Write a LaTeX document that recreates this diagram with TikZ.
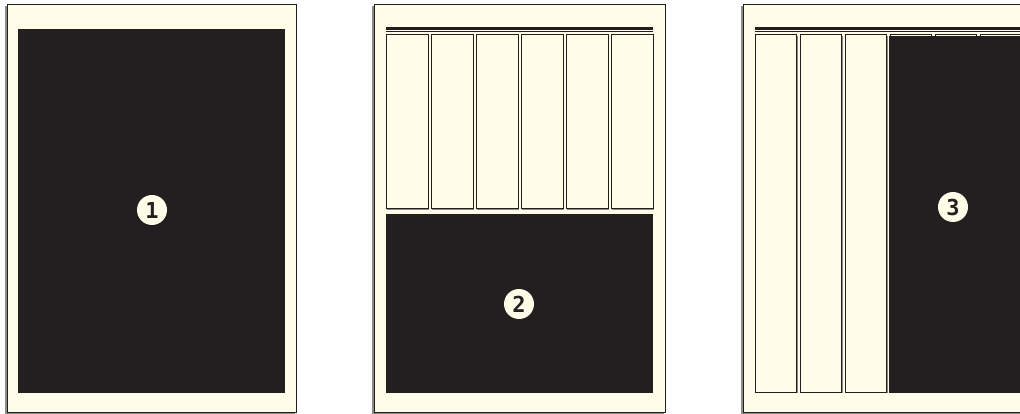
\documentclass[tikz,border=0pt]{standalone}
\usepackage{fontspec}
\newfontfamily\markfont{DejaVu Sans Mono}[BoldFont={DejaVu Sans Mono Bold}]
\usetikzlibrary{positioning}
\definecolor{pageCream}{HTML}{FFFCE8}
\definecolor{inkDark}{HTML}{231F20}
\definecolor{edgeGray}{HTML}{8C8B86}

\begin{document}
\begin{tikzpicture}[
  x=1pt, y=-1pt,
  shade/.style={fill=edgeGray},
  sheet/.style={fill=pageCream, draw=inkDark, line width=0.9pt},
  column/.style={fill=pageCream, draw=inkDark, line width=1pt},
  rule/.style={draw=inkDark, line width=2.2pt},
  thinrule/.style={draw=inkDark, line width=1.3pt},
  block/.style={fill=inkDark},
  marker/.style={circle, fill=pageCream, text=inkDark, minimum size=30pt,
    inner sep=0pt, font=\markfont\bfseries\fontsize{22}{22}\selectfont},
]
\useasboundingbox (0,0) rectangle (1020,414);
\clip (0,0) rectangle (1020,414);
\fill[white] (0,0) rectangle (1020,414);

% layout 1: one full block
\fill[shade] (5,6) rectangle (295,414);
\draw[sheet] (7,4) rectangle (296,412);
\fill[block] (18,29) rectangle (285,392.5);
\node[marker] (one) at (152,210) {1};

% layout 2: six columns over a block
\fill[shade] (372,6) rectangle (664,414);
\draw[sheet] (374,4) rectangle (665,412);
\draw[rule] (386,28.5) -- (653,28.5);
\draw[thinrule] (386,31.8) -- (653,31.8);
\foreach \k in {0,...,5} {
  \fill[shade] ({387+45*\k},36) rectangle ({429.3+45*\k},210.3);
  \draw[column] ({386+45*\k},35) rectangle ({428+45*\k},209);
}
\fill[block] (386,214) rectangle (653,392.5);
\node[marker] (two) at (519,304) {2};

% layout 3: three columns beside a block
\fill[shade] (741,6) rectangle (1040,414);
\draw[sheet] (743,4) rectangle (1040,412);
\draw[rule] (755,28.5) -- (1040,28.5);
\draw[thinrule] (755,31.8) -- (1040,31.8);
\foreach \k in {0,...,5} {
  \fill[shade] ({756+45*\k},36) rectangle ({797.8+45*\k},393.3);
  \draw[column] ({755+45*\k},35) rectangle ({796.5+45*\k},392);
}
\fill[block] (889,36.2) rectangle (1040,392.5);
\node[marker] (three) at (953,207) {3};
\end{tikzpicture}
\end{document}
